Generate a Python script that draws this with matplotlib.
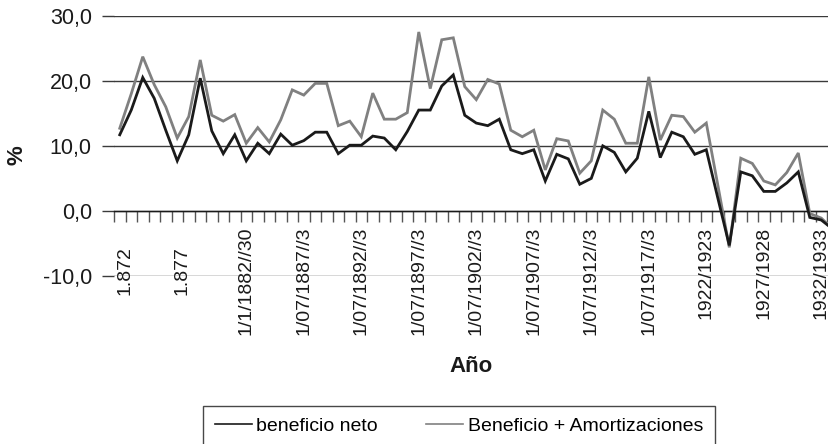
import matplotlib
matplotlib.use("Agg")
import matplotlib.pyplot as plt
from matplotlib.ticker import FixedLocator, FuncFormatter
from matplotlib.transforms import ScaledTranslation
import numpy as np

plt.rcParams['font.family'] = ['Liberation Sans', 'DejaVu Sans']

# Series values (one per category, from 1872 onwards)
beneficio_neto = [11.7, 15.5, 20.5, 17.3, 12.4, 7.7, 11.7, 20.4, 12.3, 8.8,
                  11.7, 7.7, 10.4, 8.8, 11.8, 10.1, 10.8, 12.1, 12.1, 8.8,
                  10.1, 10.1, 11.5, 11.2, 9.4, 12.2, 15.5, 15.5, 19.2, 20.9,
                  14.7, 13.5, 13.1, 14.1, 9.4, 8.8, 9.4, 4.6, 8.7, 8.0,
                  4.1, 5.0, 10.0, 9.0, 6.0, 8.1, 15.3, 8.2, 12.1, 11.4,
                  8.7, 9.4, 2.0, -5.3, 6.0, 5.4, 3.0, 3.0, 4.3, 6.0,
                  -1.0, -1.4, -2.8]
beneficio_amort = [12.7, 18.0, 23.7, 19.4, 16.0, 11.2, 14.5, 23.2, 14.7, 13.8,
                   14.8, 10.4, 12.8, 10.6, 14.0, 18.6, 17.8, 19.6, 19.6, 13.1,
                   13.8, 11.4, 18.1, 14.1, 14.1, 15.1, 27.5, 18.8, 26.3, 26.6,
                   19.1, 17.1, 20.2, 19.5, 12.4, 11.4, 12.4, 6.3, 11.1, 10.75,
                   5.8, 7.7, 15.5, 14.1, 10.4, 10.4, 20.6, 10.9, 14.7, 14.5,
                   12.1, 13.5, 4.0, -5.6, 8.1, 7.3, 4.6, 4.0, 5.9, 8.9,
                   -0.4, -1.1, -2.8]

# Category tick labels (positions are category indices)
label_idx = [0, 5, 11, 16, 21, 26, 31, 36, 41, 46, 51, 56, 61]
label_txt = ["1.872", "1.877", "1/1/1882//30", "1/07/1887//3", "1/07/1892//3",
             "1/07/1897//3", "1/07/1902//3", "1/07/1907//3", "1/07/1912//3",
             "1/07/1917//3", "1922/1923", "1927/1928", "1932/1933"]

y_ticks = [-10, 0, 10, 20, 30]

W, H = 829, 444
fig = plt.figure(figsize=(W / 100, H / 100), dpi=100)
left = 114 / W
top_px, bot_px = 15.7, 276.0
ax = fig.add_axes([left, (H - bot_px) / H, 1 - left, (bot_px - top_px) / H])

x = np.arange(len(beneficio_neto))
grid_c = '#3a3a3a'
ax.plot(x, beneficio_amort, color='#808080', lw=2.0, solid_joinstyle='miter',
        label='Beneficio + Amortizaciones', zorder=3)
ax.plot(x, beneficio_neto, color='#1a1a1a', lw=2.0, solid_joinstyle='miter',
        label='beneficio neto', zorder=4)

ax.set_ylim(-10, 30)
ax.set_xlim(-0.5, 61.67)

# Horizontal gridlines
ax.yaxis.set_major_locator(FixedLocator(y_ticks))
ax.grid(axis='y', color=grid_c, lw=1.0)
ax.set_axisbelow(True)
ax.yaxis.set_major_formatter(FuncFormatter(lambda v, p: f"{v:.1f}".replace('.', ',')))
ax.tick_params(axis='y', length=9, width=1.0, color=grid_c, labelsize=15.5, pad=7,
               labelcolor='#1a1a1a')

for s in ['left', 'right', 'top']:
    ax.spines[s].set_visible(False)
ax.spines['bottom'].set_position(('data', 0))
ax.spines['bottom'].set_color('#1a1a1a')
ax.spines['bottom'].set_linewidth(1.0)

# x ticks at category boundaries (minor), labels at category centers (major)
ax.xaxis.set_minor_locator(FixedLocator(np.arange(-0.5, 62.0, 1.0)))
ax.set_xticks(label_idx)
ax.set_xticklabels(label_txt, rotation=90, fontsize=14, color='#1a1a1a')
ax.tick_params(axis='x', which='major', length=0, pad=11.5)
ax.tick_params(axis='x', which='minor', length=8, width=1.0, color='#555555',
               direction='out')
for lab in ax.get_xticklabels()[:2]:
    lab.set_transform(lab.get_transform() +
                      ScaledTranslation(5 / 100, -19 / 100, fig.dpi_scale_trans))

# Axis titles
fig.text(17 / W, 1 - 155 / H, '%', rotation=90, fontsize=16, fontweight='bold',
         ha='center', va='center', color='#1a1a1a')
fig.text(471 / W, 1 - 366 / H, 'Año', fontsize=16, fontweight='bold',
         ha='center', va='center', color='#1a1a1a')

# Legend
handles, labels = ax.get_legend_handles_labels()
leg = fig.legend(handles[::-1], labels[::-1], loc='upper left',
                 bbox_to_anchor=(203 / W, (H - 406) / H), ncol=2,
                 fontsize=14, frameon=True, fancybox=False, shadow=False,
                 edgecolor='#1a1a1a', handlelength=1.9, handletextpad=0.25,
                 columnspacing=2.45, borderpad=0.6, borderaxespad=0)
leg.get_frame().set_linewidth(1.0)
for line in leg.get_lines():
    line.set_linewidth(1.2)

fig.savefig('out.png', dpi=100)
